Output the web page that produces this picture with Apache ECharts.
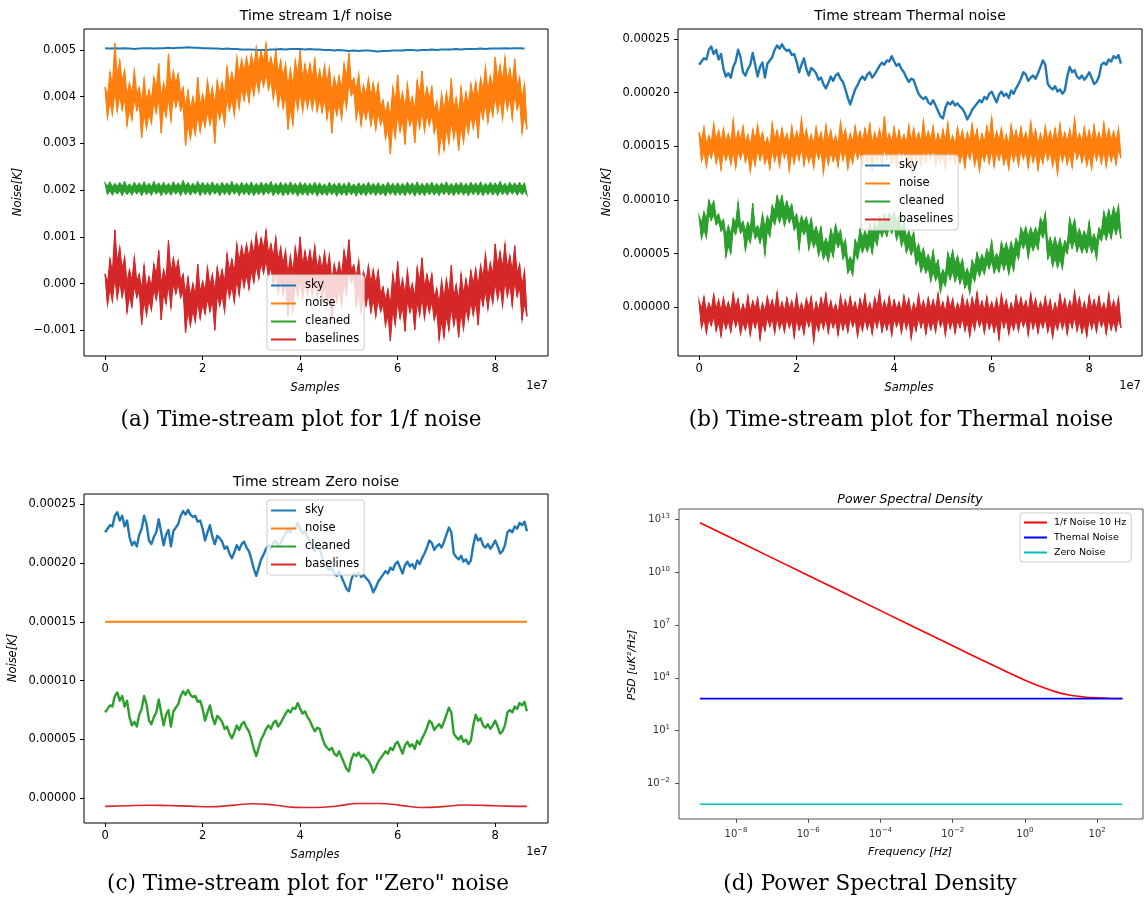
<!DOCTYPE html>
<html><head><meta charset="utf-8">
<script src="https://cdn.jsdelivr.net/npm/echarts@6/dist/echarts.min.js"></script>
<style>html,body{margin:0;padding:0;background:#fff}#c{width:1144px;height:901px}</style>
</head><body><div id="c"></div>
<script>
// ================= DATA =================
const seriesNames = ['sky', 'noise', 'cleaned', 'baselines'];
const psdNames = ['1/f Noise 10 Hz', 'Themal Noise', 'Zero Noise'];
const titles = ['Time stream 1/f noise', 'Time stream Thermal noise', 'Time stream Zero noise', 'Power Spectral Density'];
const captions = ['(a) Time-stream plot for 1/f noise', '(b) Time-stream plot for Thermal noise', '(c) Time-stream plot for "Zero" noise', '(d) Power Spectral Density'];
const xTickValues = [0, 2e7, 4e7, 6e7, 8e7];
const yTicksA = [-0.001, 0, 0.001, 0.002, 0.003, 0.004, 0.005];
const yTicksBC = [0, 0.00005, 0.0001, 0.00015, 0.0002, 0.00025];
const psdXTicks = [1e-8, 1e-6, 1e-4, 1e-2, 1, 1e2];
const psdYTicks = [1e-2, 1e1, 1e4, 1e7, 1e10, 1e13];

// (a) 1/f noise, values in 1e-5 K (noisy series alternate local max / local min)
const skyA = [504,503,504,503,504,503,502,503,504,504,503,504,504,505,504,505,505,506,505,505,
504,504,503,503,502,503,502,502,501,501,501,500,500,500,501,501,502,501,502,502,
502,501,502,501,501,500,500,499,500,499,498,499,498,499,499,498,497,498,498,499,
499,499,500,500,499,500,500,501,500,501,501,501,502,501,502,502,502,503,502,503,
503,503,504,503,504,504,503];
const noiseA = [421,355,453,362,515,368,478,371,457,338,430,350,457,370,420,312,439,332,415,343,
442,365,471,322,430,357,492,348,455,378,449,370,420,295,414,310,400,318,442,325,
405,335,435,340,420,300,435,352,430,340,464,370,452,360,485,375,480,392,485,388,
490,402,506,410,498,422,514,415,485,395,499,380,478,375,471,330,460,340,478,372,
500,368,470,375,471,372,481,368,458,366,468,352,462,322,442,360,445,352,471,375,
494,402,440,352,449,338,425,352,439,338,430,329,428,340,393,310,388,277,421,312,
447,325,410,298,428,338,400,301,435,332,455,325,420,338,421,322,390,280,407,285,
410,300,439,310,398,285,421,302,410,322,428,332,432,311,440,352,464,345,445,358,
485,366,468,352,485,372,460,352,481,372,442,322,428,330];
const cleanedA = [215,191,217,190,214,192,216,189,218,191,213,190,216,192,215,189,217,191,214,190,
218,192,215,189,216,191,214,190,217,192,215,189,220,191,216,190,214,192,218,189,
216,191,215,190,217,192,214,189,216,191,215,190,218,192,214,189,216,191,215,190,
217,189,214,191,216,190,215,192,218,189,214,191,216,189,215,190,217,191,214,188,
216,190,215,189,214,191,216,188,215,190,213,189,216,191,214,188,215,190,214,189,
216,191,213,188,215,190,214,189,216,191,214,189,215,190,213,188,216,191,214,189,
215,190,214,189,216,191,215,188,217,190,214,189,215,191,216,190,214,189,215,191,
217,190,214,189,215,191,216,190,214,189,216,191,215,190,217,189,214,191,216,190,
215,189,218,191,214,190,216,192,215,190,216,191,215,190];
const baselinesA = [21,-45,53,-38,115,-32,78,-29,57,-62,30,-50,57,-30,20,-88,39,-68,15,-57,
42,-35,71,-78,30,-43,92,-52,55,-22,49,-30,20,-105,14,-90,0,-82,42,-75,
5,-65,35,-60,20,-100,35,-48,30,-60,64,-30,52,-40,85,-25,80,-8,85,-12,
90,2,106,10,98,22,114,15,85,-5,99,-20,78,-25,71,-70,60,-60,78,-28,
100,-32,70,-25,71,-28,81,-32,58,-34,68,-48,62,-78,42,-40,45,-48,71,-25,
94,2,40,-48,49,-62,25,-48,39,-62,30,-71,28,-60,-7,-90,-12,-123,21,-88,
47,-75,10,-102,28,-62,0,-99,35,-68,55,-75,20,-62,21,-78,-10,-120,7,-115,
10,-100,39,-90,-2,-115,21,-98,10,-78,28,-68,32,-89,40,-48,64,-55,45,-42,
85,-34,68,-48,85,-28,60,-48,81,-28,42,-78,28,-70];

// (b) and (c), values in 1e-6 K
const skyThermalZero = [226,229,232,231,240,243,236,240,231,236,222,215,218,214,224,229,240,233,219,216,
222,226,237,226,215,224,228,214,227,230,233,240,244,241,245,241,239,240,235,236,
229,219,226,232,222,216,223,221,218,212,214,208,204,209,215,211,216,218,213,210,
203,195,189,196,203,207,212,215,212,217,219,214,217,221,225,228,226,230,229,234,
229,225,227,222,219,214,210,213,212,205,199,196,194,196,191,189,193,188,183,178,
176,186,191,189,192,188,190,187,185,181,175,179,184,187,190,193,191,196,194,199,
201,196,191,198,201,197,199,195,202,199,204,208,213,219,217,211,214,216,213,218,
224,230,226,208,205,203,206,201,203,199,202,215,224,219,221,215,213,216,212,215,
219,214,208,210,215,226,228,226,231,229,234,232,235,227];
const noiseB = [163,136,168,131,160,139,171,134,165,128,167,137,162,133,175,130,164,138,169,135,
161,126,166,132,170,137,163,134,158,129,172,136,165,131,167,139,162,127,169,134,
164,137,176,132,166,135,161,130,168,138,163,125,170,133,165,136,160,131,173,137,
166,129,162,134,169,138,164,132,167,135,171,128,163,136,166,131,178,137,162,134,
168,130,165,139,161,133,170,126,167,136,163,132,174,135,164,138,169,131,162,134,
166,129,172,137,160,133,168,135,165,130,163,138,171,132,166,127,162,136,169,134,
177,131,164,137,167,133,161,129,170,136,165,132,168,138,163,130,173,135,166,128,
162,134,169,137,164,131,167,124,171,136,163,133,166,130,176,138,162,135,168,132,
165,129,170,137,163,134,172,131,166,136,164,133,167,139];
const cleanedB = [85,64,89,65,100,81,99,77,87,71,82,47,76,50,83,68,98,69,80,53,
79,60,97,64,76,60,87,49,85,66,95,77,104,79,104,76,99,79,96,72,
87,54,85,68,84,54,83,56,75,48,75,45,64,43,73,47,77,56,72,45,
63,32,47,30,63,45,73,51,71,52,77,50,79,58,85,66,87,66,88,69,
89,63,86,57,79,51,71,49,70,40,59,33,55,32,49,24,53,25,44,14,
35,20,51,26,53,24,48,22,45,18,36,13,44,24,51,29,49,31,54,36,
62,32,50,33,61,35,60,31,61,34,64,45,74,55,75,46,74,53,74,54,
83,65,88,45,65,38,65,37,64,36,62,50,83,55,82,52,73,51,71,51,
80,51,68,45,74,62,89,63,91,64,93,68,95,64];
const baselinesB = [6,-19,10,-24,4,-17,12,-22,7,-27,9,-20,5,-23,13,-18,8,-25,3,-21,
11,-26,6,-19,9,-30,4,-22,10,-18,7,-24,14,-20,5,-23,9,-19,6,-28,
12,-21,4,-25,8,-18,10,-32,5,-22,9,-20,13,-24,6,-19,3,-26,11,-21,
7,-23,10,-18,5,-27,8,-22,12,-20,4,-25,9,-19,15,-23,6,-21,10,-26,
7,-18,5,-24,11,-20,8,-29,4,-22,12,-19,6,-25,9,-21,7,-23,13,-18,
5,-26,10,-20,8,-24,4,-19,11,-22,7,-27,9,-21,14,-18,6,-24,10,-20,
5,-23,8,-30,12,-19,7,-25,4,-21,11,-22,9,-18,6,-26,13,-20,8,-24,
5,-19,10,-23,7,-28,4,-21,12,-20,8,-25,6,-19,15,-22,9,-24,5,-27,
11,-20,7,-23,10,-18,4,-25,13,-21,6,-22,9,-19];
const noiseC = [150, 150];
const cleanedC = [73,76,79,78,87,90,83,87,78,83,69,62,65,61,71,76,87,80,66,63,
69,73,84,73,62,71,75,61,74,77,80,87,91,88,92,88,86,87,82,83,
76,66,73,79,69,63,70,68,65,59,61,55,51,56,62,58,63,65,60,57,
50,42,36,43,50,54,59,62,59,64,66,61,64,68,72,75,73,77,76,81,
76,72,74,69,66,61,57,60,59,52,46,43,41,43,38,36,40,35,30,25,
23,33,38,36,39,35,37,34,32,28,22,26,31,34,37,40,38,43,41,46,
48,43,38,45,48,44,46,42,49,46,51,55,60,66,64,58,61,63,60,65,
71,77,73,55,52,50,53,48,50,46,49,62,71,66,68,62,60,63,59,62,
66,61,55,57,62,73,75,73,78,76,81,79,82,74];
const baselinesC = [-6.8,-6.2,-5.8,-6.1,-6.6,-7.1,-5.9,-4.5,-5.6,-7.6,-7.8,-6.4,-4.4,-4.3,-5.9,-7.8,-7.0,-5.6,-5.9,-6.6,-6.8];

// (d) PSD in uK^2/Hz
const psdFreq = [1e-9,1e-8,1e-7,1e-6,1e-5,1e-4,1e-3,1e-2,3e-2,1e-1,3e-1,1,2,5,10,20,50,100,200,500];
const psdOneOverF = [6.6e12,6.6e11,6.6e10,6.6e9,6.6e8,6.6e7,6.6e6,6.6e5,2.2e5,6.7e4,2.3e4,7.3e3,4.0e3,2.0e3,1.3e3,990,790,730,690,670];
const psdFreqEnds = [1e-9, 500];
const psdThermal = [660, 660];
const psdZero = [6.5e-4, 6.5e-4];

// ================= CHART =================
const FONT = 'DejaVu Sans';
const COLORS = ['#1f77b4', '#ff7f0e', '#2ca02c', '#d62728'];
function pairs(vals, step, unit) { return vals.map((v, i) => [i * step, v * unit]); }
function fmtDec(v, d) { return (v < -1e-12 ? '\u2212' : '') + Math.abs(v).toFixed(d); }
function sup(v) { const e = Math.round(Math.log10(v)); return '{b|10}{s|' + (e < 0 ? '\u2212' + (-e) : e) + '}'; }

const grids = [
  { left: 84, top: 29, width: 464, height: 327 },
  { left: 678, top: 29, width: 464, height: 327 },
  { left: 84, top: 494, width: 464, height: 329 },
  { left: 679, top: 509, width: 464, height: 310 }
].map((g, i) => Object.assign(g, { show: true, borderColor: i === 3 ? '#555' : '#000', borderWidth: 1, backgroundColor: 'transparent', containLabel: false }));

function timeX(gi) {
  return { type: 'value', gridIndex: gi, min: -4.325e6, max: 9.0825e7,
    axisLine: { show: false, onZero: false }, splitLine: { show: false },
    axisTick: { show: true, length: 4, customValues: xTickValues, lineStyle: { color: '#000' } },
    axisLabel: { customValues: xTickValues, formatter: v => String(Math.round(v / 1e7)), color: '#000', fontFamily: FONT, fontSize: 11.5, margin: 7 } };
}
function timeY(gi, min, max, ticks, dec) {
  return { type: 'value', gridIndex: gi, min: min, max: max,
    axisLine: { show: false, onZero: false }, splitLine: { show: false },
    axisTick: { show: true, length: 4, customValues: ticks, lineStyle: { color: '#000' } },
    axisLabel: { customValues: ticks, formatter: v => fmtDec(v, dec), color: '#000', fontFamily: FONT, fontSize: 11.5, margin: 8 } };
}
const richSup = { b: { fontSize: 10, fontFamily: FONT, color: '#333', lineHeight: 14 }, s: { fontSize: 7, fontFamily: FONT, color: '#333', lineHeight: 7, verticalAlign: 'top' } };
const xAxes = [timeX(0), timeX(1), timeX(2), {
  type: 'log', logBase: 10, gridIndex: 3, min: Math.pow(10, -9.58), max: Math.pow(10, 3.27),
  axisLine: { show: false, onZero: false }, splitLine: { show: false }, minorTick: { show: false },
  axisTick: { show: true, length: 4, customValues: psdXTicks, lineStyle: { color: '#555' } },
  axisLabel: { customValues: psdXTicks, formatter: v => sup(v), rich: richSup, margin: 8 } }];
const yAxes = [timeY(0, -0.00155, 0.00545, yTicksA, 3), timeY(1, -0.0000453, 0.0002593, yTicksBC, 5), timeY(2, -0.0000209, 0.0002585, yTicksBC, 5), {
  type: 'log', logBase: 10, gridIndex: 3, min: Math.pow(10, -4.03), max: Math.pow(10, 13.6),
  axisLine: { show: false, onZero: false }, splitLine: { show: false }, minorTick: { show: false },
  axisTick: { show: true, length: 4, customValues: psdYTicks, lineStyle: { color: '#555' } },
  axisLabel: { customValues: psdYTicks, formatter: v => sup(v), rich: richSup, margin: 9 } }];

function line(name, gi, data, color, width, extra) {
  return Object.assign({ type: 'line', name: name, xAxisIndex: gi, yAxisIndex: gi, data: data, symbol: 'none', showSymbol: false,
    lineStyle: { color: color, width: width, join: 'round' }, itemStyle: { color: color }, emphasis: { disabled: true }, silent: true, z: 2 }, extra || {});
}
// a dense noisy trace: the listed values alternate local max / local min; the inner part of the
// zig-zag is filled so the trace reads as a solid core with spiky edges, as in a dense time stream
const FILL = 0.7;
function band(gi, vals, step, unit, color) {
  const hi = [], lo = [];
  vals.forEach((v, i) => { (i % 2 === 0 ? hi : lo).push(v); });
  const K = Math.min(hi.length, lo.length);
  const top = [], bot = [];
  for (let k = 0; k < K; k++) {
    top.push([2 * k * step, hi[k]]);
    if (k < K - 1) top.push([(2 * k + 1) * step, lo[k] + FILL * (Math.min(hi[k], hi[k + 1]) - lo[k])]);
  }
  for (let k = K - 1; k >= 0; k--) {
    bot.push([(2 * k + 1) * step, lo[k]]);
    if (k > 0) bot.push([2 * k * step, hi[k] - FILL * (hi[k] - Math.max(lo[k - 1], lo[k]))]);
  }
  const pts = top.concat(bot).map(p => [p[0], p[1] * unit]);
  return { type: 'custom', name: '_band', xAxisIndex: gi, yAxisIndex: gi, data: [pts[0]], clip: true, silent: true, z: 2,
    renderItem: (params, api) => params.dataIndex === 0 ? ({ type: 'polygon', shape: { points: pts.map(p => api.coord(p)) },
      style: { fill: color, stroke: color, lineWidth: 1.1, lineJoin: 'miter' } }) : null };
}
function noisy(name, gi, vals, step, unit, color) {
  return [line(name, gi, pairs(vals, step, unit), color, 1.0), band(gi, vals, step, unit, color)];
}
const series = [].concat(
  [line('sky', 0, pairs(skyA, 1e6, 1e-5), COLORS[0], 2)],
  noisy('noise', 0, noiseA, 5e5, 1e-5, COLORS[1]),
  noisy('cleaned', 0, cleanedA, 5e5, 1e-5, COLORS[2]),
  noisy('baselines', 0, baselinesA, 5e5, 1e-5, COLORS[3]),
  [line('sky', 1, pairs(skyThermalZero, 5e5, 1e-6), COLORS[0], 2.4)],
  noisy('noise', 1, noiseB, 5e5, 1e-6, COLORS[1]),
  noisy('cleaned', 1, cleanedB, 5e5, 1e-6, COLORS[2]),
  noisy('baselines', 1, baselinesB, 5e5, 1e-6, COLORS[3]),
  [line('sky', 2, pairs(skyThermalZero, 5e5, 1e-6), COLORS[0], 2.4),
   line('noise', 2, pairs(noiseC, 8.65e7, 1e-6), COLORS[1], 1.8),
   line('cleaned', 2, pairs(cleanedC, 5e5, 1e-6), COLORS[2], 2.4),
   line('baselines', 2, pairs(baselinesC, 4.325e6, 1e-6), COLORS[3], 1.6, { smooth: true }),
   line(psdNames[0], 3, psdFreq.map((f, i) => [f, psdOneOverF[i]]), '#ff0000', 1.6),
   line(psdNames[1], 3, psdFreqEnds.map((f, i) => [f, psdThermal[i]]), '#0000ff', 1.8),
   line(psdNames[2], 3, psdFreqEnds.map((f, i) => [f, psdZero[i]]), '#00bfbf', 1.6)]
);

function legend(left, top, names, fs, lh, gap, iw, tpad) {
  return { show: true, orient: 'vertical', left: left, top: top, data: names, icon: 'rect', itemWidth: iw, itemHeight: 2,
    itemGap: gap, padding: [4, 5, 4, 4], backgroundColor: 'rgba(255,255,255,0.8)', borderColor: '#cccccc', borderWidth: 1, borderRadius: 3,
    selectedMode: false, inactiveColor: '#ccc',
    textStyle: { fontFamily: FONT, fontSize: fs, color: '#000', lineHeight: lh, padding: [0, 0, 0, tpad] } };
}
const legends = [
  legend(267, 275, seriesNames, 11.5, 13, 5, 25, 4),
  legend(861, 155, seriesNames, 11.5, 13, 5, 25, 4),
  legend(267, 500, seriesNames, 11.5, 13, 5, 25, 4),
  legend(1020, 513, psdNames, 9.5, 11, 4, 23, 2)
];

function txt(x, y, text, size, opts) {
  opts = opts || {};
  return { type: 'text', x: x, y: y, rotation: opts.rot || 0, silent: true, z: 10,
    style: { text: text, fontSize: size, fontFamily: opts.family || FONT, fontStyle: opts.italic ? 'italic' : 'normal',
      fill: opts.color || '#000', align: 'center', verticalAlign: 'middle', textAlign: 'center', textVerticalAlign: 'middle' } };
}
const graphics = [
  txt(316, 16, titles[0], 14), txt(910, 16, titles[1], 14), txt(316, 482, titles[2], 14),
  txt(910, 500, titles[3], 12.5, { italic: true }),
  txt(315, 388, 'Samples', 11.5, { italic: true }), txt(909, 388, 'Samples', 11.5, { italic: true }), txt(315, 855, 'Samples', 11.5, { italic: true }),
  txt(910, 852, 'Frequency [Hz]', 11, { italic: true }),
  txt(18, 192, 'Noise[K]', 11.5, { italic: true, rot: Math.PI / 2 }),
  txt(607, 192, 'Noise[K]', 11.5, { italic: true, rot: Math.PI / 2 }),
  txt(13, 658, 'Noise[K]', 11.5, { italic: true, rot: Math.PI / 2 }),
  txt(632, 665, 'PSD [uK\u00b2/Hz]', 11, { italic: true, rot: Math.PI / 2 }),
  txt(537, 386, '1e7', 11.5), txt(1130, 386, '1e7', 11.5), txt(537, 852, '1e7', 11.5),
  txt(301, 420, captions[0], 21.5, { family: 'DejaVu Serif' }),
  txt(901, 420, captions[1], 21.5, { family: 'DejaVu Serif' }),
  txt(308, 884, captions[2], 21.5, { family: 'DejaVu Serif' }),
  txt(870, 884, captions[3], 21.5, { family: 'DejaVu Serif' })
];

const chart = echarts.init(document.getElementById('c'), null, { renderer: 'canvas' });
chart.setOption({
  animation: false, backgroundColor: '#fff',
  grid: grids, xAxis: xAxes, yAxis: yAxes, series: series, legend: legends,
  graphic: { elements: graphics }
});
</script></body></html>
